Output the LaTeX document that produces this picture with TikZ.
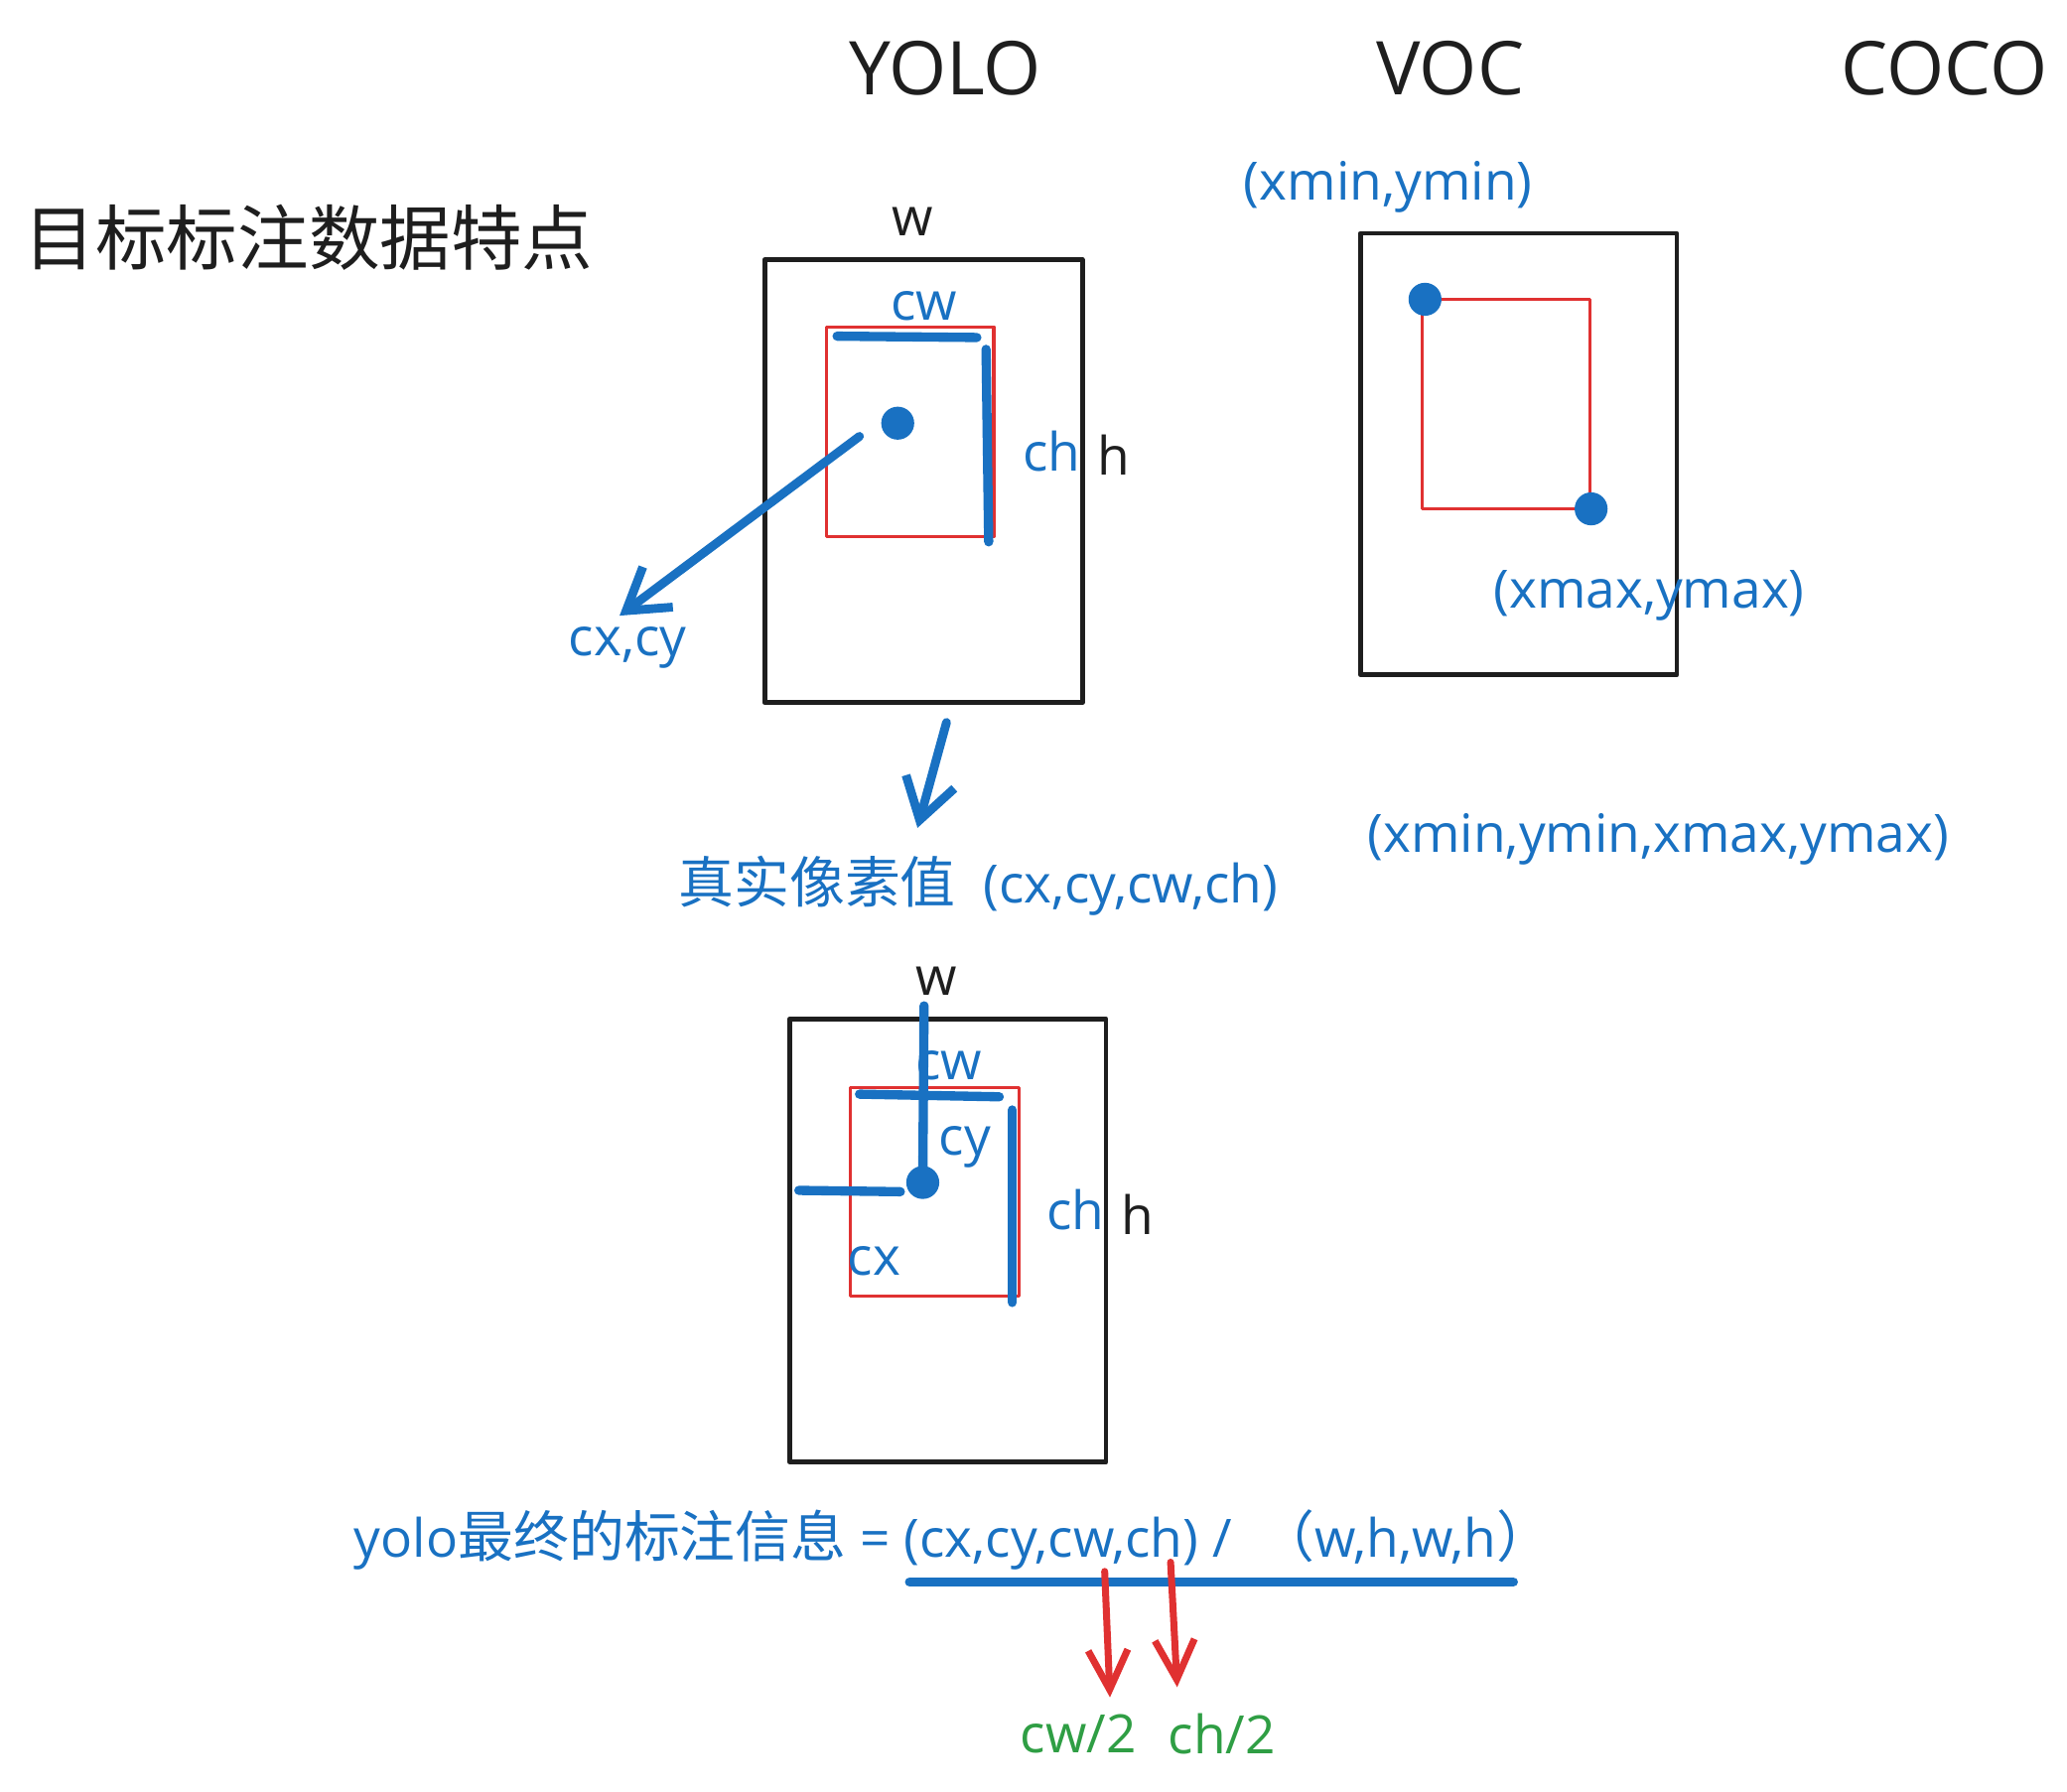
\documentclass[tikz,border=0pt]{standalone}
\usepackage{fontspec}
\setmainfont{Open Sans}
\newfontfamily\cjk[Scale=1.05]{Noto Sans CJK SC}
\usetikzlibrary{arrows.meta}
\definecolor{inkblue}{HTML}{1971C2}
\definecolor{inkred}{HTML}{E03131}
\definecolor{inkgreen}{HTML}{2F9E44}
\definecolor{ink}{HTML}{1E1E1E}

\begin{document}
\begin{tikzpicture}[x=0.01cm,y=-0.01cm,line cap=round,line join=round,
  lbl/.style={font=\fontsize{11.4}{13}\selectfont,inner sep=0pt,text=ink},
  bluelbl/.style={lbl,text=inkblue},
  greenlbl/.style={lbl,text=inkgreen},
  head/.style={font=\fontsize{16}{19}\selectfont,inner sep=0pt,text=ink},
  imgbox/.style={draw=ink,line width=1.05pt},
  gtbox/.style={draw=inkred,line width=0.75pt},
  dimline/.style={draw=inkblue,line width=2pt},
  ctr/.style={circle,fill=inkblue,inner sep=0pt,minimum size=0.25cm},
  bluearrow/.style={draw=inkblue,line width=1.9pt,-{Straight Barb[length=3mm,width=3.8mm]}},
  redarrow/.style={draw=inkred,line width=1.5pt,-{Straight Barb[length=3mm,width=3mm]}}]
\useasboundingbox (0,0) rectangle (1568,1359);

% headings
\node[anchor=west,font=\fontsize{14.6}{18}\selectfont\cjk,text=ink,inner sep=0pt] (title) at (18,180) {目标标注数据特点};
\node[head] (yolo) at (717,52) {YOLO};
\node[head] (voc) at (1100,52) {VOC};
\node[head] (coco) at (1475,52) {COCO};

% YOLO: pixel values
\draw[imgbox] (580,197) rectangle (821,533);
\draw[gtbox] (627,248) rectangle (754,407);
\node[lbl] (w1) at (692,168) {w};
\node[lbl] (h1) at (845,345) {h};
\node[bluelbl] (cw1) at (701,232) {cw};
\node[bluelbl] (ch1) at (798,342) {ch};
\draw[dimline] (635,255) -- (741,256);
\draw[dimline] (748,265) -- (750,411);
\node[ctr] (c1) at (681,321) {};
\node[bluelbl] (cxcy) at (476,491) {cx,cy};
\coordinate (s1) at (652,331);
\coordinate (t1) at (470,467);
\draw[bluearrow] (s1) -- (t1);
\coordinate (s2) at (718,548);
\coordinate (t2) at (696,628);
\draw[bluearrow] (s2) -- (t2);
\node[bluelbl,anchor=west] (real) at (514,672) {{\cjk 真实像素值}\ \ (cx,cy,cw,ch)};

% VOC
\draw[imgbox] (1032,177) rectangle (1272,512);
\draw[gtbox] (1079,227) rectangle (1206,386);
\node[ctr] (pmin) at (1081,227) {};
\node[ctr] (pmax) at (1207,386) {};
\node[bluelbl] (lmin) at (1053,142) {(xmin,ymin)};
\node[bluelbl] (lmax) at (1251,452) {(xmax,ymax)};
\node[bluelbl] (vocfmt) at (1258,637) {(xmin,ymin,xmax,ymax)};

% YOLO: normalised values
\draw[imgbox] (599,773) rectangle (839,1109);
\draw[gtbox] (645,825) rectangle (773,983);
\node[lbl] (w2) at (710,744) {w};
\node[lbl] (h2) at (863,921) {h};
\node[ctr] (c2) at (700,897) {};
\coordinate (top2) at (701,763);
\coordinate (left2) at (606,903);
\coordinate (leftend2) at (683,904);
\draw[dimline] (top2) -- (c2.center);
\draw[dimline] (left2) -- (leftend2);
\draw[dimline] (652,830) -- (758,832);
\draw[dimline] (768,842) -- (768,988);
\node[bluelbl] (cw2) at (720,808) {cw};
\node[bluelbl] (cy2) at (732,870) {cy};
\node[bluelbl] (cx2) at (663,957) {cx};
\node[bluelbl] (ch2) at (816,918) {ch};

% final label
\node[bluelbl,anchor=west] (final) at (268,1168) {yolo{\cjk 最终的标注信息}\ =\ (cx,cy,cw,ch) /\ \ {\cjk （}w,h,w,h{\cjk ）}};
\coordinate (ul1) at (690,1200);
\coordinate (ul2) at (1148,1200);
\draw[dimline] (ul1) -- (ul2);
\node[greenlbl] (halfw) at (818,1315) {cw/2};
\node[greenlbl] (halfh) at (927,1315) {ch/2};
\coordinate (r1) at (838,1192);
\coordinate (r2) at (888,1185);
\draw[redarrow] (r1) -- ([xshift=0.24cm,yshift=0.12cm]halfw.north);
\draw[redarrow] (r2) -- ([xshift=-0.34cm,yshift=0.19cm]halfh.north);
\end{tikzpicture}
\end{document}
